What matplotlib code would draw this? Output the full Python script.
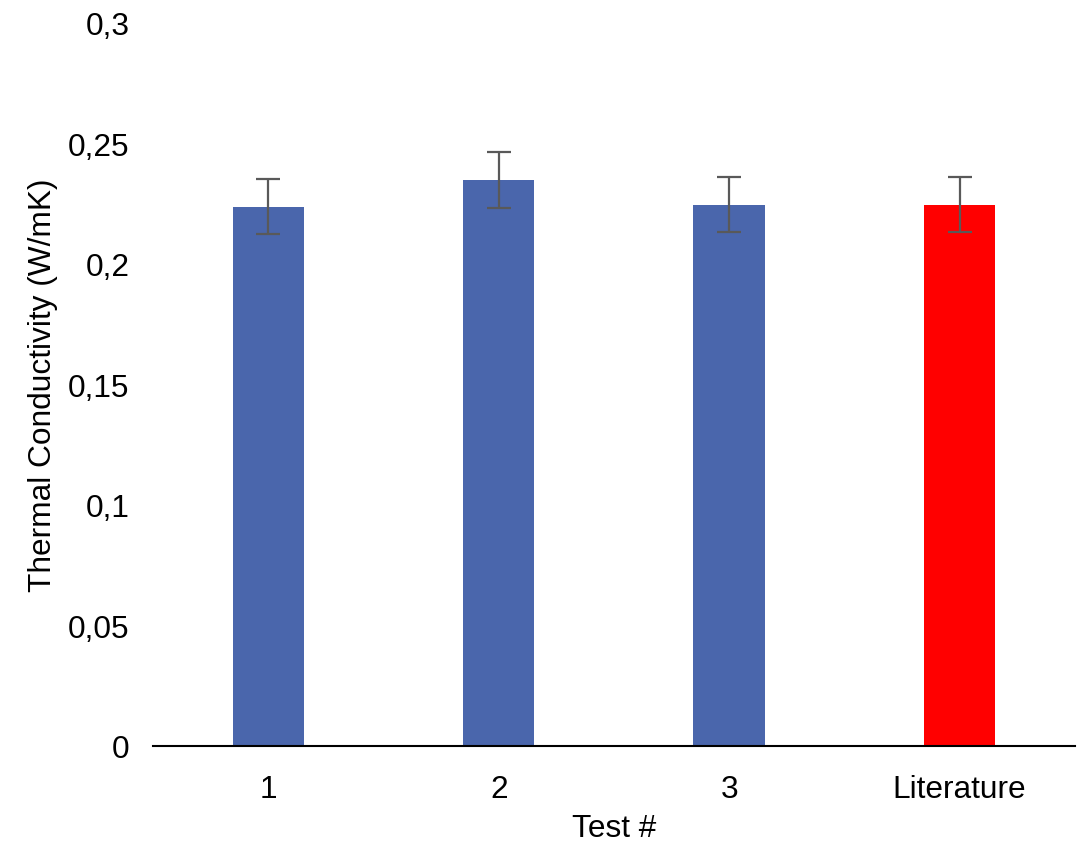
import matplotlib.pyplot as plt
from matplotlib.ticker import FuncFormatter

plt.rcParams['font.family'] = ['Liberation Sans', 'DejaVu Sans']

categories = ["1", "2", "3", "Literature"]
values = [0.2237, 0.2348, 0.2245, 0.2245]
errors = [0.0114, 0.0117, 0.0114, 0.0114]
colors = ["#4A66AC", "#4A66AC", "#4A66AC", "#FF0000"]

fig = plt.figure(figsize=(10.89, 8.45), dpi=100)
ax = fig.add_axes([0.1405, 0.116, 0.8465, 0.8556])

x = range(len(categories))
ax.bar(x, values, width=0.31, color=colors, zorder=2)
ax.errorbar(x, values, yerr=errors, fmt='none', ecolor='#595959',
            elinewidth=1.6, capsize=8.6, capthick=1.6, zorder=3)

ax.set_xlim(-0.5, 3.5)
ax.set_ylim(0, 0.3)
ax.set_yticks([0, 0.05, 0.1, 0.15, 0.2, 0.25, 0.3])
ax.yaxis.set_major_formatter(FuncFormatter(lambda v, p: f"{v:g}".replace('.', ',')))
ax.set_xticks(list(x))
ax.set_xticklabels(categories)
ax.tick_params(axis='both', length=0, labelsize=22.8, colors='black')
ax.tick_params(axis='y', pad=17)
ax.tick_params(axis='x', pad=20)

for s in ['top', 'right', 'left']:
    ax.spines[s].set_visible(False)
ax.spines['bottom'].set_linewidth(1.5)
ax.spines['bottom'].set_zorder(4)

ax.set_ylabel("Thermal Conductivity (W/mK)", fontsize=22.8, labelpad=7)
ax.set_xlabel("Test #", fontsize=22.8, labelpad=7)

fig.savefig("out.png", dpi=100)
